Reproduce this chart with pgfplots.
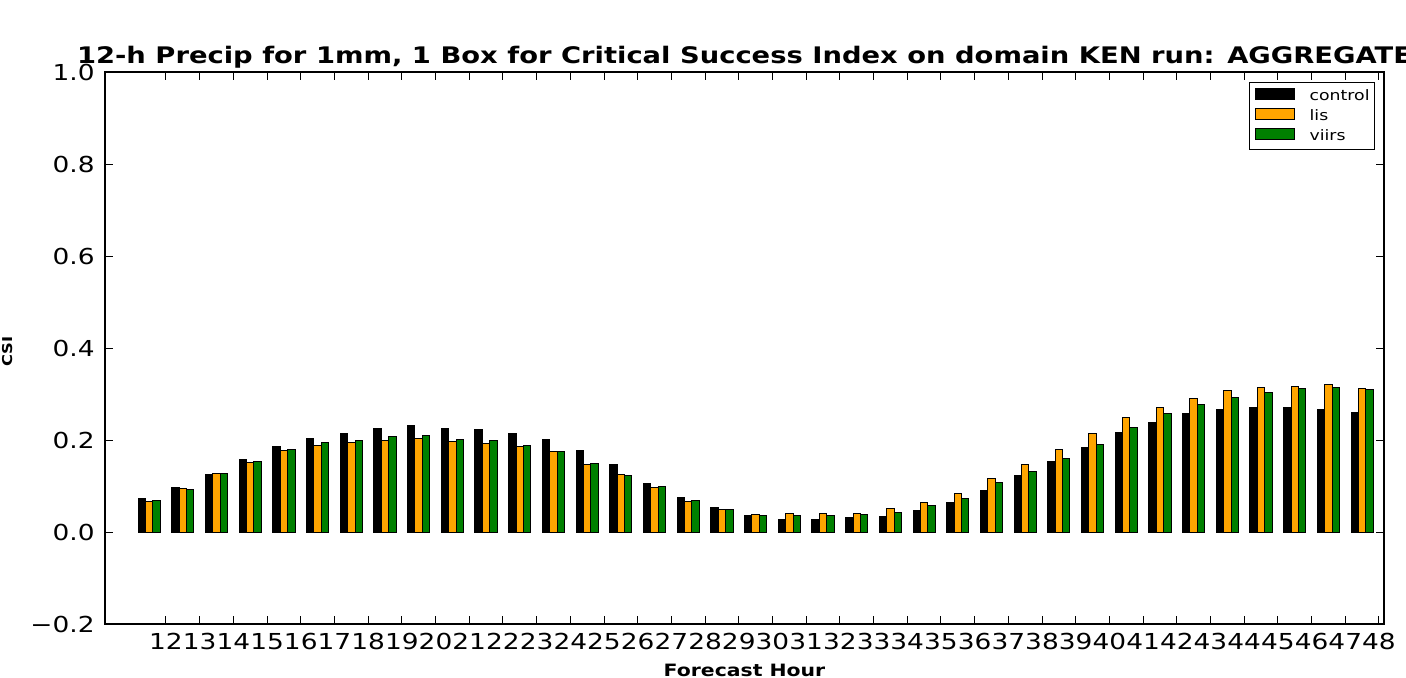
\documentclass[border=0pt]{standalone}
\usepackage{fontspec}
\setmainfont{DejaVu Sans}[FakeStretch=1.2]
\usepackage{pgfplots}
\usepackage{pgfplotstable}
\pgfplotsset{compat=1.18}
\pgfplotsset{mybarlegend/.style={legend image code/.code={\draw[##1, line width=0.5pt] (0pt,-1.4pt) rectangle (19.5pt,4.1pt);}}}
\pgfplotstableread{
hour control lis viirs
12 0.073 0.067 0.068
13 0.096 0.095 0.093
14 0.126 0.128 0.128
15 0.157 0.152 0.153
16 0.186 0.177 0.180
17 0.204 0.188 0.195
18 0.214 0.194 0.198
19 0.225 0.200 0.207
20 0.231 0.204 0.209
21 0.225 0.197 0.201
22 0.222 0.193 0.198
23 0.214 0.186 0.189
24 0.201 0.174 0.174
25 0.178 0.146 0.150
26 0.147 0.125 0.122
27 0.105 0.097 0.099
28 0.075 0.067 0.069
29 0.054 0.049 0.050
30 0.036 0.038 0.036
31 0.028 0.041 0.035
32 0.028 0.041 0.035
33 0.031 0.041 0.039
34 0.034 0.051 0.042
35 0.046 0.065 0.057
36 0.065 0.083 0.072
37 0.091 0.116 0.107
38 0.123 0.146 0.131
39 0.153 0.180 0.159
40 0.183 0.215 0.191
41 0.216 0.248 0.228
42 0.237 0.271 0.257
43 0.258 0.290 0.278
44 0.267 0.308 0.293
45 0.270 0.314 0.303
46 0.270 0.317 0.312
47 0.267 0.320 0.315
48 0.259 0.312 0.309
}\datatable
\definecolor{mplorange}{HTML}{FFA500}
\definecolor{mplgreen}{HTML}{008000}
\begin{document}
\begin{tikzpicture}
\useasboundingbox (-52.5pt,-26.5pt) rectangle (650.5pt,312pt);
\clip (-52.5pt,-26.5pt) rectangle (650.5pt,312pt);
\begin{axis}[
  at={(0,0)}, anchor=south west,
  scale only axis, width=639.5pt, height=276pt,
  xmin=10.19, xmax=48.15, ymin=-0.2, ymax=1.0,
  xtick={12,...,48},
  ytick={-0.2,0,0.2,0.4,0.6,0.8,1.0},
  yticklabels={−0.2,0.0,0.2,0.4,0.6,0.8,1.0},
  /pgf/number format/assume math mode=true,
  major tick length=4pt,
  tick style={black, line width=0.5pt},
  axis line style={line width=0.8pt},
  xticklabel style={font=\fontsize{11}{13}\selectfont, inner sep=0pt, yshift=-4.5pt},
  yticklabel style={font=\fontsize{11}{13}\selectfont, inner sep=0pt, xshift=-5pt},
  title={12-h Precip for 1mm, 1 Box for Critical Success Index on domain KEN run: AGGREGATE},
  every axis title/.style={font=\bfseries\fontsize{11.4}{13}\selectfont, at={(0.5,1)}, anchor=base, yshift=4.5pt, inner sep=0pt},
  xlabel={Forecast Hour},
  xlabel style={font=\bfseries\fontsize{8.5}{10}\selectfont, at={(axis description cs:0.5,-0.0725)}, anchor=north, inner sep=0pt},
  ylabel={CSI},
  ylabel style={font=\bfseries\fontsize{6.8}{8}\selectfont, at={(axis description cs:-0.0758,0.493)}, anchor=center, inner sep=0pt},
  legend cell align=left,
  legend style={at={(0.993,0.982)}, anchor=north east, draw=black, line width=0.5pt,
    font=\fontsize{7.2}{8}\selectfont, inner xsep=2.5pt, inner ysep=3pt,
    nodes={inner sep=0pt, text height=5.2pt, text depth=1.5pt},
    row sep=2.3pt, column sep=7.5pt},
]
\addplot[ybar, bar width=3.7pt, bar shift=-12.12pt, fill=black, draw=black, line width=0.5pt, mybarlegend]
  table[x=hour, y=control] {\datatable};
\addlegendentry{control}
\addplot[ybar, bar width=3.7pt, bar shift=-8.42pt, fill=mplorange, draw=black, line width=0.5pt, mybarlegend]
  table[x=hour, y=lis] {\datatable};
\addlegendentry{lis}
\addplot[ybar, bar width=3.7pt, bar shift=-4.71pt, fill=mplgreen, draw=black, line width=0.5pt, mybarlegend]
  table[x=hour, y=viirs] {\datatable};
\addlegendentry{viirs}
\end{axis}
\end{tikzpicture}
\end{document}
